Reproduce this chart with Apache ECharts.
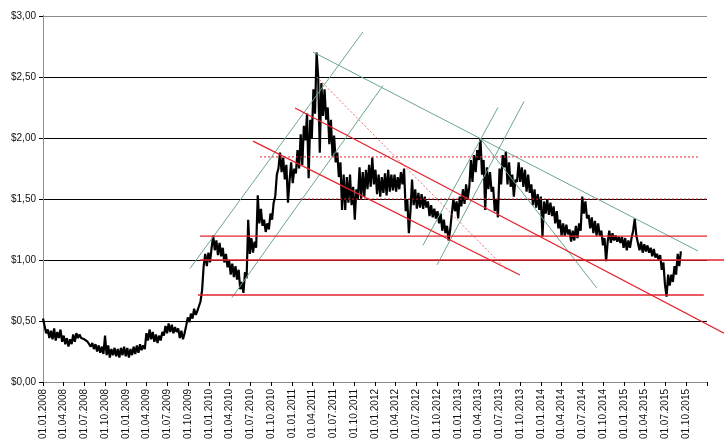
<!DOCTYPE html>
<html>
<head>
<meta charset="utf-8">
<script src="https://cdn.jsdelivr.net/npm/echarts@6/dist/echarts.min.js"></script>
<style>html,body{margin:0;padding:0;background:#fff}#c{width:724px;height:445px}</style>
</head>
<body>
<div id="c"></div>
<script>
// Weekly closes (alternating highs/lows of the daily band), starting 2008-01-01, step 7 days
var p2008 = [0.52,0.46,0.40,0.43,0.36,0.42,0.35,0.44,0.34,0.41,0.36,0.43,0.33,0.38,0.31,0.36,0.29,0.35,0.31,0.39,0.33,0.40,0.36,0.39,0.36,0.37,0.35,0.36,0.33,0.34,0.29,0.32,0.27,0.31,0.25,0.30,0.24,0.29,0.23,0.38,0.22,0.30,0.20,0.27,0.22,0.28,0.21,0.27,0.20,0.28,0.22,0.29];
var p2009 = [0.21,0.28,0.20,0.27,0.22,0.29,0.23,0.30,0.24,0.31,0.26,0.30,0.27,0.40,0.34,0.43,0.35,0.41,0.33,0.39,0.32,0.38,0.34,0.41,0.38,0.46,0.40,0.48,0.41,0.47,0.40,0.45,0.41,0.44,0.36,0.42,0.35,0.40,0.46,0.53,0.49,0.56,0.52,0.60,0.55,0.58,0.57,0.66,0.75,0.95,1.05,0.95];
var p2010 = [1.06,0.98,1.10,1.20,1.08,1.16,1.04,1.14,1.03,1.10,0.98,1.05,0.94,1.00,0.88,0.97,0.86,0.95,0.84,0.92,0.76,0.82,0.73,0.90,0.85,1.33,1.05,1.18,1.06,1.15,1.10,1.53,1.30,1.42,1.28,1.33,1.23,1.30,1.25,1.38,1.33,1.47,1.52,1.70,1.75,1.88,1.72,1.84,1.66,1.78,1.47,1.65];
var p2011 = [1.80,1.63,1.75,1.71,1.90,1.75,2.03,1.78,2.10,1.98,2.20,1.67,2.15,2.00,2.40,2.20,2.70,2.50,1.88,2.45,2.18,2.40,2.15,2.25,1.95,2.15,1.85,2.02,1.80,1.88,1.68,1.80,1.41,1.70,1.41,1.68,1.47,1.70,1.45,1.60,1.33,1.58,1.50,1.76,1.50,1.72,1.52,1.74,1.58,1.78,1.60,1.84];
var p2012 = [1.62,1.74,1.54,1.70,1.52,1.68,1.55,1.71,1.53,1.74,1.56,1.70,1.57,1.70,1.56,1.68,1.58,1.72,1.62,1.75,1.40,1.50,1.22,1.40,1.66,1.45,1.58,1.42,1.55,1.43,1.54,1.42,1.52,1.43,1.48,1.36,1.45,1.35,1.42,1.34,1.40,1.30,1.38,1.24,1.33,1.22,1.28,1.16,1.25,1.38,1.50,1.40];
var p2013 = [1.48,1.34,1.52,1.44,1.58,1.46,1.62,1.50,1.60,1.82,1.64,1.86,1.72,1.90,1.82,2.00,1.70,1.82,1.41,1.76,1.58,1.72,1.56,1.60,1.40,1.50,1.35,1.75,1.62,1.86,1.76,1.89,1.62,1.80,1.60,1.70,1.52,1.66,1.64,1.80,1.64,1.76,1.60,1.74,1.56,1.70,1.55,1.62,1.45,1.58,1.43,1.54];
var p2014 = [1.41,1.52,1.19,1.48,1.38,1.50,1.37,1.47,1.36,1.44,1.30,1.40,1.26,1.33,1.20,1.30,1.20,1.29,1.21,1.25,1.15,1.24,1.16,1.28,1.18,1.30,1.24,1.52,1.38,1.48,1.34,1.37,1.26,1.35,1.22,1.32,1.20,1.30,1.20,1.24,1.12,1.18,0.99,1.15,1.24,1.14,1.22,1.16,1.20,1.15,1.19,1.14];
var p2015 = [1.19,1.10,1.18,1.08,1.16,1.10,1.18,1.24,1.34,1.20,1.14,1.08,1.15,1.06,1.13,1.07,1.12,1.06,1.10,1.03,1.09,1.02,1.05,1.00,1.04,0.92,0.98,0.80,0.70,0.88,0.79,0.88,0.82,0.95,0.88,1.05,0.95,1.07];

// Trend lines: [startDate, startValue, endDate, endValue]
var greenLines = [
  ['2009-10-09',0.93,'2011-11-09',2.87],
  ['2010-04-11',0.69,'2012-02-05',2.43],
  ['2011-04-03',2.705,'2015-11-22',1.074],
  ['2013-04-07',2.00,'2014-09-03',0.77],
  ['2012-07-30',1.12,'2013-06-25',2.25],
  ['2012-09-30',0.96,'2013-10-18',2.30]
];
var redLines = [
  ['2010-07-13',1.975,'2013-09-30',0.877],
  ['2009-11-22',1.195,'2016-01-01',1.195],
  ['2009-11-13',0.713,'2015-12-18',0.713]
];
// red lines that run past the right edge of the plot
var redLinesOut = [
  ['2011-01-14',2.246,'2016-03-16',0.40],
  ['2009-11-22',1.00,'2016-03-16',1.00]
];
var dottedLines = [
  ['2011-04-20',2.50,'2013-08-03',0.918],
  ['2010-08-13',1.845,'2015-11-22',1.845],
  ['2011-02-05',1.50,'2016-01-01',1.50]
];

var BASE = Date.UTC(2008,0,1);
function dayOf(y,m,dd){return Math.round((Date.UTC(y,m,dd)-BASE)/86400000);}
function d(s){var a=s.split('-');return dayOf(+a[0],+a[1]-1,+a[2]);}
function fmt(day){var t=new Date(BASE+day*86400000);return pad(t.getUTCDate())+'.'+pad(t.getUTCMonth()+1)+'.'+t.getUTCFullYear();}
function pad(n){return (n<10?'0':'')+n;}

var prices = [].concat(p2008,p2009,p2010,p2011,p2012,p2013,p2014,p2015);
var priceData = prices.map(function(v,i){return [i*7, v];});
var quarterTicks = [], quarterLabels = [];
for (var y=2008; y<=2015; y++) for (var m=0; m<12; m+=3) { quarterTicks.push(dayOf(y,m,1)); quarterLabels.push(dayOf(y,m,1)); }
quarterTicks.push(dayOf(2016,0,1));

var series = [];
series.push({type:'line', data:priceData, showSymbol:false, symbol:'none',
  lineStyle:{color:'#000',width:2.2,join:'bevel'}, z:2});
greenLines.forEach(function(l){
  series.push({type:'line', data:[[d(l[0]),l[1]],[d(l[2]),l[3]]], showSymbol:false, symbol:'none', clip:false,
    lineStyle:{color:'#6aa88e',width:1}, silent:true, z:3});
});
redLines.forEach(function(l){
  series.push({type:'line', data:[[d(l[0]),l[1]],[d(l[2]),l[3]]], showSymbol:false, symbol:'none', clip:false,
    lineStyle:{color:'#e4232b',width:1.3}, silent:true, z:3});
});
dottedLines.forEach(function(l,i){
  series.push({type:'line', data:[[d(l[0]),l[1]],[d(l[2]),l[3]]], showSymbol:false, symbol:'none', clip:false,
    lineStyle:{color: i===0?'#f07070':'#e4232b', width:1, type:[2,2]}, silent:true, z:3});
});

var chart = echarts.init(document.getElementById('c'), null, {renderer:'canvas'});
chart.setOption({
  animation:false,
  backgroundColor:'#fff',
  textStyle:{fontFamily:'Liberation Sans, Arial, sans-serif'},
  grid:{left:43, right:17, top:16, bottom:63, containLabel:false},
  xAxis:[{
    type:'value', min:0, max:dayOf(2016,0,1),
    axisLine:{show:true,lineStyle:{color:'#000',width:1}},
    axisTick:{show:true,length:4,inside:false,lineStyle:{color:'#000'},customValues:quarterTicks},
    axisLabel:{show:true,rotate:90,margin:7,fontSize:10,color:'#111',fontFamily:'Liberation Sans, Arial, sans-serif',
      customValues:quarterLabels, hideOverlap:false, showMinLabel:true, showMaxLabel:true,
      formatter:function(v){return fmt(v);}},
    splitLine:{show:false}
  },{
    type:'value', position:'top', min:0, max:dayOf(2016,0,1),
    axisLine:{show:true,lineStyle:{color:'#8a8a8a'}}, axisTick:{show:false}, axisLabel:{show:false}, splitLine:{show:false}
  }],
  yAxis:[{
    type:'value', min:0, max:3, interval:0.5,
    axisLine:{show:true,lineStyle:{color:'#000'}},
    axisTick:{show:true,length:4,lineStyle:{color:'#000'}},
    axisLabel:{margin:7,fontSize:10,color:'#111',fontFamily:'Liberation Sans, Arial, sans-serif',
      formatter:function(v){return '$'+v.toFixed(2).replace('.',',');}},
    splitLine:{show:true,lineStyle:{color:['#000','#000','#000','#000','#000','#000','#8a8a8a'],width:1}}
  },{
    type:'value', position:'right', min:0, max:3, interval:0.5,
    axisLine:{show:true,lineStyle:{color:'#8090b0'}}, axisTick:{show:false}, axisLabel:{show:false}, splitLine:{show:false}
  }],
  series: series
});
// lines extending beyond the plot: positioned through the chart's own coordinate conversion
var extra = redLinesOut.map(function(l){
  var a = chart.convertToPixel({gridIndex:0}, [d(l[0]), l[1]]);
  var b = chart.convertToPixel({gridIndex:0}, [d(l[2]), l[3]]);
  return {type:'line', shape:{x1:a[0],y1:a[1],x2:b[0],y2:b[1]}, style:{stroke:'#e4232b',lineWidth:1.3}, z:10, silent:true};
});
chart.setOption({graphic:extra});
</script>
</body>
</html>
